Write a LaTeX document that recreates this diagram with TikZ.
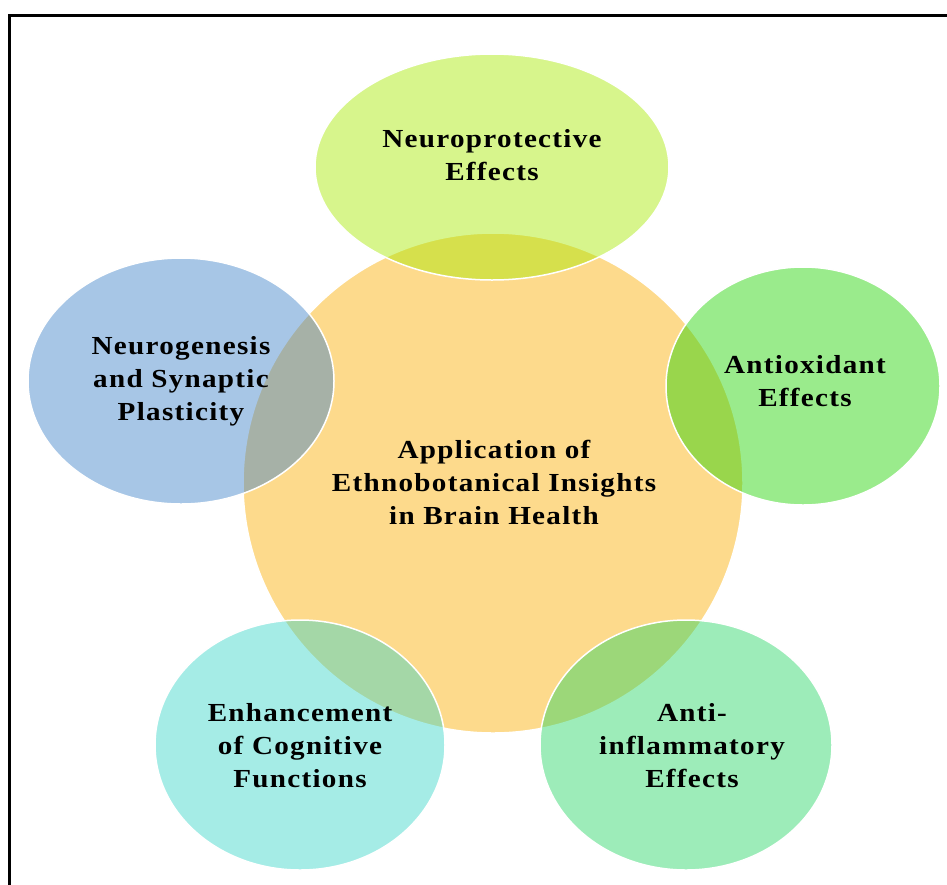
\documentclass[tikz,border=0pt]{standalone}
\usepackage{fontspec}
\setmainfont{Liberation Serif}
\newfontfamily\capfont{Liberation Serif}[FakeStretch=1.12, LetterSpace=5]
\usetikzlibrary{shapes.geometric}

\definecolor{hubfill}{RGB}{251,173,0}
\definecolor{limefill}{RGB}{167,233,0}
\definecolor{bluefill}{RGB}{62,129,200}
\definecolor{greenfill}{RGB}{33,211,0}
\definecolor{cyanfill}{RGB}{56,213,200}
\definecolor{mintfill}{RGB}{38,213,100}

\tikzset{
  blob/.style={ellipse, draw=white, line width=1.5pt, fill opacity=0.45, inner sep=0pt, outer sep=0pt},
  caption/.style={font=\capfont\bfseries\fontsize{26}{33}\selectfont, align=center, text=black, inner sep=0pt}
}

\begin{document}
\begin{tikzpicture}[x=1pt, y=-1pt]
  \useasboundingbox (0,0) rectangle (947,884);
  \clip (0,0) rectangle (947,884);
  \fill[white] (0,0) rectangle (947,884);

  % frame
  \draw[line width=3pt, black] (9,15) rectangle (955,895);

  % central circle
  \node[blob, fill=hubfill, minimum width=500pt, minimum height=500pt] (hub) at (493,483) {};

  % surrounding ellipses
  \node[blob, fill=limefill, minimum width=354pt, minimum height=226pt] (top) at (492,167) {};
  \node[blob, fill=bluefill, minimum width=306pt, minimum height=246pt] (left) at (181,381) {};
  \node[blob, fill=greenfill, minimum width=274pt, minimum height=238pt] (right) at (803,386) {};
  \node[blob, fill=cyanfill, minimum width=290pt, minimum height=250pt] (botleft) at (300,745) {};
  \node[blob, fill=mintfill, minimum width=292pt, minimum height=250pt] (botright) at (686,745) {};

  % labels
  \node[caption] (hubtxt) at (494,482) {Application of\\Ethnobotanical Insights\\in Brain Health};
  \node[caption] (toptxt) at (492,155) {Neuroprotective\\Effects};
  \node[caption] (lefttxt) at (181,381) {Neurogenesis\\and Synaptic\\Plasticity};
  \node[caption] (righttxt) at (805,381) {Antioxidant\\Effects};
  \node[caption] (botlefttxt) at (300,746) {Enhancement\\of Cognitive\\Functions};
  \node[caption] (botrighttxt) at (692,746) {Anti-\\inflammatory\\Effects};
\end{tikzpicture}
\end{document}
